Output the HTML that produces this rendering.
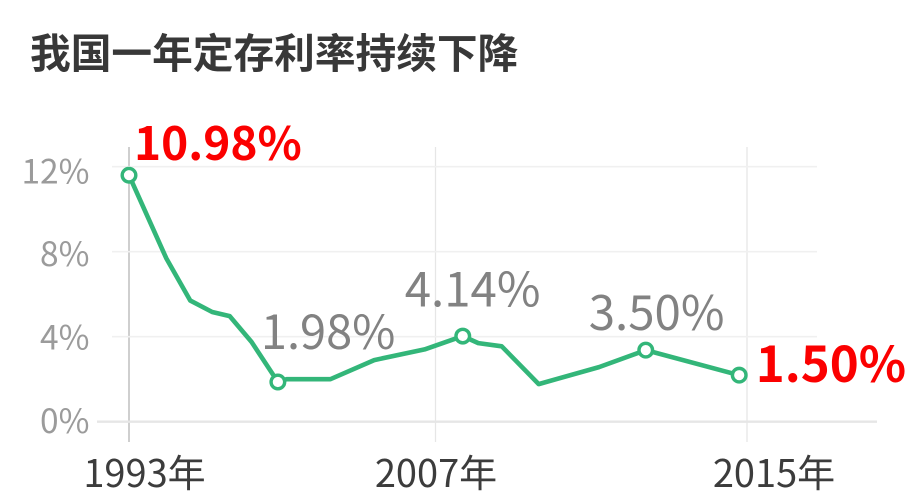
<!DOCTYPE html>
<html lang="zh">
<head>
<meta charset="utf-8">
<style>
html,body{margin:0;padding:0;background:#fff;}
body{width:920px;height:504px;overflow:hidden;position:relative;font-family:"Noto Sans CJK SC","Liberation Sans",sans-serif;}
#chart-title{position:absolute;left:30px;top:22px;margin:0;font-size:40.7px;line-height:58px;font-weight:700;color:#383838;white-space:nowrap;}
svg{position:absolute;left:0;top:0;}
text{font-family:"Noto Sans CJK SC","Liberation Sans",sans-serif;}
</style>
</head>
<body>
<h1 id="chart-title">我国一年定存利率持续下降</h1>
<svg id="chart" width="920" height="504" viewBox="0 0 920 504"></svg>
<script>
const years = [1993, 1994.7, 1995.8, 1996.8, 1997.6, 1998.6, 1999.8, 2000.2, 2002.2, 2004.2, 2006.5, 2007.7, 2008.1, 2008.7, 2009.65, 2011.2, 2012.4, 2014.8];
const rates = [11.6, 7.7, 5.7, 5.16, 4.97, 3.75, 1.87, 2.0, 2.0, 2.9, 3.4, 4.03, 3.7, 3.55, 1.77, 2.57, 3.37, 2.19];
const yTicks = [0, 4, 8, 12];
const xTicks = [1993, 2007, 2015];
const markedYears = [1993, 1999.8, 2007.7, 2012.4, 2014.8];
const markedLabels = ['10.98%', '1.98%', '4.14%', '3.50%', '1.50%'];
const markedHighlight = [true, false, false, false, true];

const svg = document.getElementById('chart');
const NS = 'http://www.w3.org/2000/svg';

function yScale(v) { return 421.7 - v * 21.25; }
function xScale(yr) {
  if (yr <= 2007) return 129 + (yr - 1993) * (306.5 / 14);
  return 435.5 + (yr - 2007) * (311.5 / 8);
}
function make(tag, attrs) {
  const el = document.createElementNS(NS, tag);
  for (const k in attrs) el.setAttribute(k, attrs[k]);
  svg.appendChild(el);
  return el;
}

const xLabelShift = [15.5, 0.5, 27];
xTicks.forEach(function (t, i) {
  const line = make('line', {x1: xScale(t), x2: xScale(t), y1: 147, y2: 442, stroke: i === 0 ? '#cfcfcf' : '#e6e6e6', 'stroke-width': i === 0 ? 2 : 1.3});
  
  
  const label = make('text', {x: xScale(t) + xLabelShift[i], y: 487, 'text-anchor': 'middle', 'font-size': 38, fill: '#3c3c3c'});
  label.textContent = t + '年';
  
  
});

const yLabelShift = [11.5, 13, 14.5, 17];
yTicks.forEach(function (t, i) {
  const line = make('line', {x1: t === 0 ? 97 : 112, x2: t === 0 ? 877 : 817, y1: yScale(t), y2: yScale(t), stroke: t === 0 ? '#e6e6e6' : '#f0f0f0', 'stroke-width': t === 0 ? 2.4 : 1.6});
  
  
  const label = make('text', {x: 89.5, y: yScale(t) + yLabelShift[i], 'text-anchor': 'end', 'font-size': 33.5, fill: '#9b9b9b'});
  label.textContent = t + '%';
  
  
});

const pts = years.map(function (yr, i) { return xScale(yr).toFixed(1) + ',' + yScale(rates[i]).toFixed(1); }).join(' ');
const series = make('polyline', {points: pts, fill: 'none', stroke: '#33b679', 'stroke-width': 4.6, 'stroke-linejoin': 'round'});



const labelOffsets = [[5, -15], [-17, -33], [-58, -29.5], [-57, -20], [16.5, 7]];
const labelSizes = [46, 47, 47.4, 47.4, 49.2];
markedYears.forEach(function (yr, i) {
  const rate = rates[years.indexOf(yr)];
  const cx = xScale(yr), cy = yScale(rate);
  const dot = make('circle', {cx: cx, cy: cy, r: 6.8, fill: '#fff', stroke: '#33b679', 'stroke-width': 3.4});
  
  
  const hi = markedHighlight[i];
  const label = make('text', {x: cx + labelOffsets[i][0], y: cy + labelOffsets[i][1], 'font-size': labelSizes[i], 'font-weight': hi ? 700 : 400, fill: hi ? '#fb0000' : '#828282'});
  label.textContent = markedLabels[i];
  
  
});
</script>
</body>
</html>
